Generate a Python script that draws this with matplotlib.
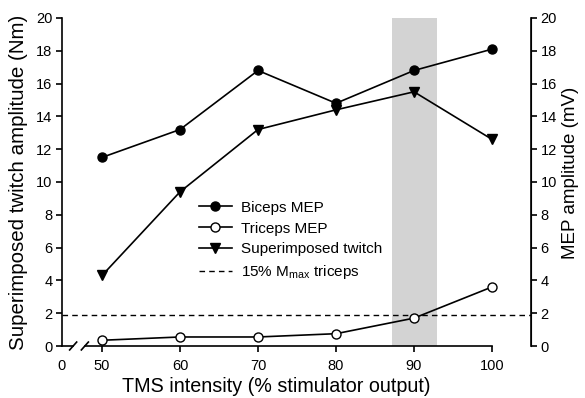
import matplotlib
matplotlib.use("Agg")
import matplotlib.pyplot as plt
from matplotlib.lines import Line2D
import matplotlib.transforms as mtransforms

plt.rcParams['font.family'] = ['Liberation Sans', 'DejaVu Sans']

intensity = [50, 60, 70, 80, 90, 100]
biceps_mep = [11.5, 13.2, 16.8, 14.8, 16.8, 18.1]
triceps_mep = [0.35, 0.55, 0.55, 0.75, 1.7, 3.6]
twitch = [4.3, 9.4, 13.2, 14.4, 15.5, 12.6]
threshold = 1.9
shade = (87.2, 93.0)
xticks = [50, 60, 70, 80, 90, 100]
yticks = list(range(0, 21, 2))

fig = plt.figure(figsize=(5.85, 3.98), dpi=100)
ax = fig.add_axes([62/585, 1-346/398, (531-62)/585, (346-18)/398])
ax.set_xlim(44.87, 105.0)
ax.set_ylim(0, 20)

ax.axvspan(shade[0], shade[1], color='#d3d3d3', lw=0, zorder=0)
ax.axhline(threshold, color='black', ls=(0, (4, 3)), lw=1.0, zorder=1)

ax.plot(intensity, biceps_mep, color='black', lw=1.2, marker='o', ms=6.5,
        mfc='black', mec='black', label='Biceps MEP', zorder=3, clip_on=False)
ax.plot(intensity, triceps_mep, color='black', lw=1.2, marker='o', ms=6.5,
        mfc='white', mec='black', label='Triceps MEP', zorder=3, clip_on=False)
ax.plot(intensity, twitch, color='black', lw=1.2, marker='v', ms=7.5,
        mfc='black', mec='black', label='Superimposed twitch', zorder=3, clip_on=False)

for s in ['top', 'bottom']:
    ax.spines[s].set_visible(False)
ax.spines['left'].set_linewidth(1.2)

# custom x axis with break
trans = mtransforms.blended_transform_factory(ax.transData, ax.transAxes)
xl = ax.get_xlim()[0]
ax.plot([xl, 46.3], [0, 0], color='black', lw=1.2, transform=trans, clip_on=False)
ax.plot([47.8, 100], [0, 0], color='black', lw=1.2, transform=trans, clip_on=False)
for xb in (46.3, 47.8):
    ax.plot([xb - 0.45, xb + 0.45], [-0.012, 0.012], color='black', lw=1.2,
            transform=trans, clip_on=False)

ax.set_xticks([xl] + xticks)
ax.set_xticklabels(['0'] + [str(v) for v in xticks])
ax.set_yticks(yticks)
ax.tick_params(axis='both', direction='out', length=4, width=1.2, labelsize=10.5, pad=3)
ax.tick_params(axis='x', pad=5)
ax.xaxis.get_major_ticks()[0].tick1line.set_visible(False)

ax.set_xlabel('TMS intensity (% stimulator output)', fontsize=14.2)
ax.xaxis.set_label_coords(0.456, -0.095)
ax.set_ylabel('Superimposed twitch amplitude (Nm)', fontsize=14.8)
ax.yaxis.set_label_coords(-0.073, 0.5)

ax2 = ax.twinx()
ax2.set_ylim(0, 20)
ax2.set_yticks(yticks)
for s in ['top', 'bottom', 'left']:
    ax2.spines[s].set_visible(False)
ax2.spines['right'].set_linewidth(1.2)
ax2.tick_params(axis='y', direction='out', length=4, width=1.2, labelsize=10.5, pad=3)
ax2.set_ylabel('MEP amplitude (mV)', fontsize=13.5)
ax2.yaxis.set_label_coords(1.066, 0.529)

handles = [
    Line2D([], [], color='black', lw=1.2, marker='o', ms=6.5, mfc='black'),
    Line2D([], [], color='black', lw=1.2, marker='o', ms=6.5, mfc='white'),
    Line2D([], [], color='black', lw=1.2, marker='v', ms=7.5, mfc='black'),
    Line2D([], [], color='black', lw=1.0, ls=(0, (4, 3))),
]
labels = ['Biceps MEP', 'Triceps MEP', 'Superimposed twitch', r'15% M$_{\mathregular{max}}$ triceps']
ax.legend(handles, labels, loc='upper left', bbox_to_anchor=(0.262, 0.485), frameon=False,
          fontsize=11, handlelength=2.2, labelspacing=0.45, handletextpad=0.6, numpoints=1)

fig.savefig('out.png', dpi=100)
